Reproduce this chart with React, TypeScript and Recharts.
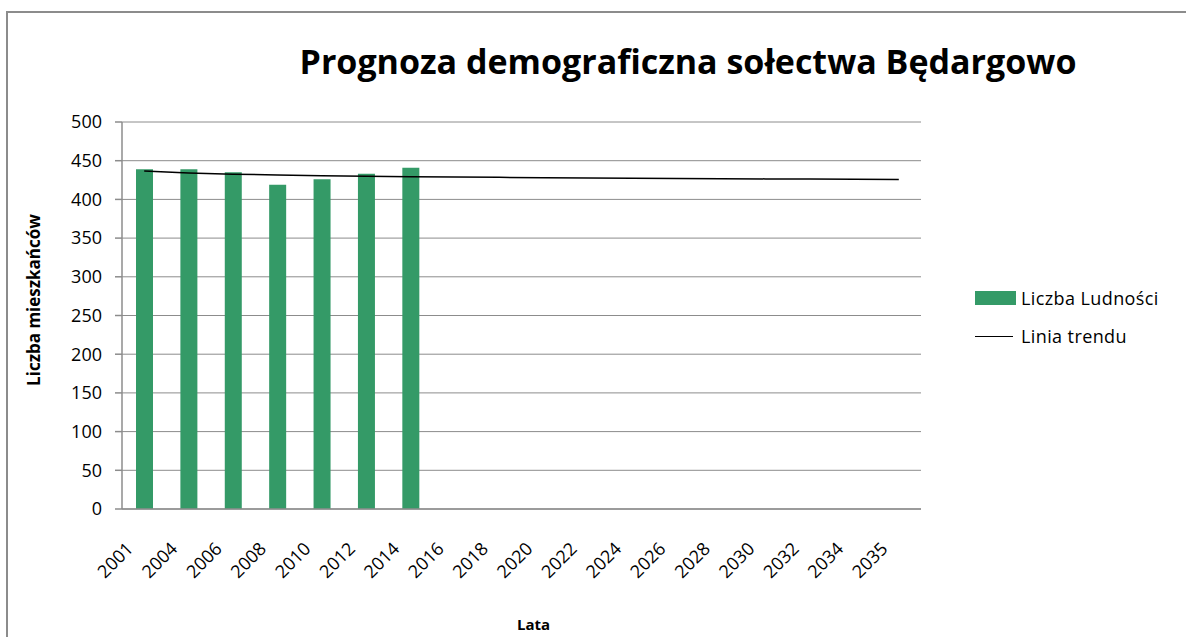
import { Bar, CartesianGrid, ComposedChart, Legend, Line, XAxis, YAxis } from "recharts";

const years = [
  "2001", "2004", "2006", "2008", "2010", "2012", "2014", "2016", "2018",
  "2020", "2022", "2024", "2026", "2028", "2030", "2032", "2034", "2035",
];
const population = [439, 439, 435, 419, 426, 433, 441];
const trend = [
  436.8, 434.2, 432.6, 431.5, 430.7, 430.0, 429.4, 428.9, 428.5,
  428.1, 427.7, 427.4, 427.1, 426.8, 426.5, 426.3, 426.0, 425.8,
];
const yTicks = [0, 50, 100, 150, 200, 250, 300, 350, 400, 450, 500];
const markTicks = [0, 1, 2, 3, 4, 5, 6, 7, 8, 9, 10, 11, 12, 13, 14, 15, 16, 17, 18];

const data = years.map((year, i) => ({
  year,
  population: population[i] ?? null,
  trend: trend[i],
}));

const FONT = "'Open Sans', sans-serif";
const GREEN = "#349a67";
const GRAY = "#8c8c8c";

function LegendBox({ payload }: any) {
  const items = payload ?? [];
  return (
    <div style={{ fontFamily: FONT, fontSize: 18, color: "#000" }}>
      {items.map((item: any) => (
        <div key={item.value} style={{ display: "flex", alignItems: "center", height: 24, marginBottom: 14 }}>
          {item.type === "line" ? (
            <span style={{ width: 38, height: 0, borderTop: "1.5px solid #000", marginRight: 8 }} />
          ) : (
            <span style={{ width: 41, height: 14, background: GREEN, marginRight: 5 }} />
          )}
          <span style={{ letterSpacing: 0.4 }}>{item.value}</span>
        </div>
      ))}
    </div>
  );
}

export default function App() {
  return (
    <div style={{ position: "absolute", left: 0, top: 0, width: 1186, height: 637, overflow: "hidden", background: "#fff" }}>
      <div
        style={{
          position: "absolute",
          left: 6,
          top: 11,
          width: 1300,
          height: 800,
          borderLeft: `2px solid ${GRAY}`,
          borderTop: `2px solid ${GRAY}`,
        }}
      />
      <div
        style={{
          position: "absolute",
          left: 188,
          top: 44,
          width: 1000,
          textAlign: "center",
          fontFamily: FONT,
          fontWeight: 700,
          fontSize: 34,
          lineHeight: 1,
          color: "#000",
        }}
      >
        Prognoza demograficzna sołectwa Będargowo
      </div>
      <div style={{ position: "absolute", left: 0, top: 0 }}>
        <ComposedChart width={1186} height={637} data={data} margin={{ top: 122, right: 265, left: 0, bottom: 0 }}>
          <CartesianGrid horizontal vertical={false} stroke={GRAY} strokeWidth={1} />
          <XAxis
            xAxisId="b_labels"
            dataKey="year"
            interval={0}
            height={127}
            axisLine={false}
            tickLine={false}
            tickSize={0}
            tickMargin={31}
            angle={-45}
            textAnchor="end"
            tick={{ dx: -19, fill: "#000", fontSize: 18, fontFamily: FONT }}
            label={{
              value: "Lata",
              position: "insideBottom",
              offset: 7,
              dx: 12,
              style: { fontFamily: FONT, fontWeight: 700, fontSize: 15, fill: "#000" },
            }}
          />
          <XAxis
            xAxisId="a_marks"
            type="number"
            domain={[0, 18]}
            allowDataOverflow
            ticks={markTicks}
            tick={false}
            tickSize={6}
            height={1}
            axisLine={{ stroke: GRAY, strokeWidth: 1.5 }}
            tickLine={{ stroke: GRAY, strokeWidth: 1.5 }}
          />
          <YAxis
            domain={[0, 500]}
            ticks={yTicks}
            interval={0}
            width={122}
            tickSize={7}
            tickMargin={13}
            axisLine={{ stroke: GRAY, strokeWidth: 1.5 }}
            tickLine={{ stroke: GRAY, strokeWidth: 1.5 }}
            tick={{ fill: "#000", fontSize: 18, fontFamily: FONT }}
            label={{
              value: "Liczba mieszkańców",
              content: () => (
                <text
                  x={33}
                  y={300}
                  transform="rotate(-90 33 300)"
                  textAnchor="middle"
                  dominantBaseline="central"
                  style={{ fontFamily: FONT, fontWeight: 700, fontSize: 17, fill: "#000" }}
                >
                  Liczba mieszkańców
                </text>
              ),
            }}
          />
          <Legend
            layout="vertical"
            align="center"
            verticalAlign="middle"
            content={<LegendBox />}
            wrapperStyle={{ left: 975, top: 286, width: 210 }}
          />
          <Bar
            xAxisId="b_labels"
            dataKey="population"
            name="Liczba Ludności"
            fill={GREEN}
            barSize={17}
            legendType="rect"
            isAnimationActive={false}
          />
          <Line
            xAxisId="b_labels"
            dataKey="trend"
            name="Linia trendu"
            type="linear"
            stroke="#000"
            strokeWidth={1.5}
            dot={false}
            legendType="line"
            isAnimationActive={false}
          />
        </ComposedChart>
      </div>
    </div>
  );
}
